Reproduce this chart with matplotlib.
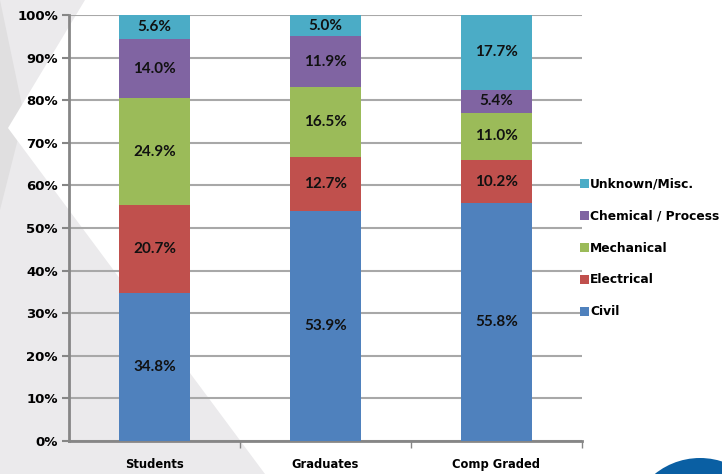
import matplotlib
matplotlib.use("Agg")
import matplotlib.pyplot as plt
from matplotlib.patches import Polygon, Circle
import numpy as np

categories = ['Students', 'Graduates', 'Comp Graded']
series_names = ['Civil', 'Electrical', 'Mechanical', 'Chemical / Process', 'Unknown/Misc.']
civil = [34.8, 53.9, 55.8]
electrical = [20.7, 12.7, 10.2]
mechanical = [24.9, 16.5, 11.0]
chemical = [14.0, 11.9, 5.4]
unknown = [5.6, 5.0, 17.7]
colors = ['#4F81BD', '#C0504D', '#9BBB59', '#8064A2', '#4BACC6']
yticks = np.arange(0, 101, 10)

W, H = 722, 474
fig = plt.figure(figsize=(W / 100, H / 100), dpi=100)
fig.patch.set_facecolor('#ebeaec')

# background shapes (pixel coords, origin top-left)
bg = fig.add_axes([0, 0, 1, 1], zorder=0)
bg.set_xlim(0, W)
bg.set_ylim(H, 0)
bg.axis('off')
bg.add_patch(Polygon([(0, 0), (24, 115), (0, 210)], closed=True, color='#e0dfe0', lw=0))
bg.add_patch(Polygon([(85, 0), (W, 0), (W, H), (265, H), (8, 128)], closed=True, color='white', lw=0))
bg.add_patch(Circle((700, 530), 74, color='white', lw=0))
bg.add_patch(Circle((700, 530), 72, color='#0a5fa3', lw=0))

ax = fig.add_axes([69 / W, 1 - 441 / H, (582 - 69) / W, (441 - 15) / H], zorder=1)
ax.patch.set_alpha(0)

x = np.arange(len(categories))
width = 0.41
data = [civil, electrical, mechanical, chemical, unknown]
bottom = np.zeros(len(categories))
handles = []
for vals, name, col in zip(data, series_names, colors):
    b = ax.bar(x, vals, width, bottom=bottom, color=col, label=name, zorder=3)
    handles.append(b)
    for xi, v, b0 in zip(x, vals, bottom):
        ax.text(xi, b0 + v / 2, '%.1f%%' % v, ha='center', va='center',
                fontsize=11, family='Lato', fontweight='bold', color='#111111', zorder=4)
    bottom = bottom + np.array(vals)

ax.set_xlim(-0.5, 2.5)
ax.set_ylim(0, 100)
ax.set_yticks(yticks)
ax.set_yticklabels(['%d%%' % t for t in yticks], fontsize=9.5, fontweight='heavy')
ax.yaxis.grid(True, color='#a8a8a8', linewidth=1.5, zorder=0)
ax.set_axisbelow(True)

ax.set_xticks(x)
ax.set_xticklabels(categories, fontsize=8.3, fontweight='heavy')
ax.tick_params(axis='x', which='major', length=0, pad=12)
ax.set_xticks([0.5, 1.5, 2.5], minor=True)
ax.tick_params(axis='x', which='minor', length=5, width=1, color='#868686', direction='out')
ax.tick_params(axis='y', length=5, width=1.5, color='#868686', pad=3)

for side in ['top', 'right']:
    ax.spines[side].set_visible(False)
for side in ['left', 'bottom']:
    ax.spines[side].set_color('#868686')
    ax.spines[side].set_linewidth(2)

leg = fig.legend(handles[::-1], series_names[::-1], loc='center left',
                 bbox_to_anchor=(575 / W, 1 - 248 / H), frameon=False,
                 prop={'size': 8.8, 'weight': 'heavy'}, labelspacing=1.55,
                 handlelength=0.75, handleheight=0.75, handletextpad=0.1,
                 borderaxespad=0)

fig.savefig('out.png', dpi=100, facecolor=fig.get_facecolor())
